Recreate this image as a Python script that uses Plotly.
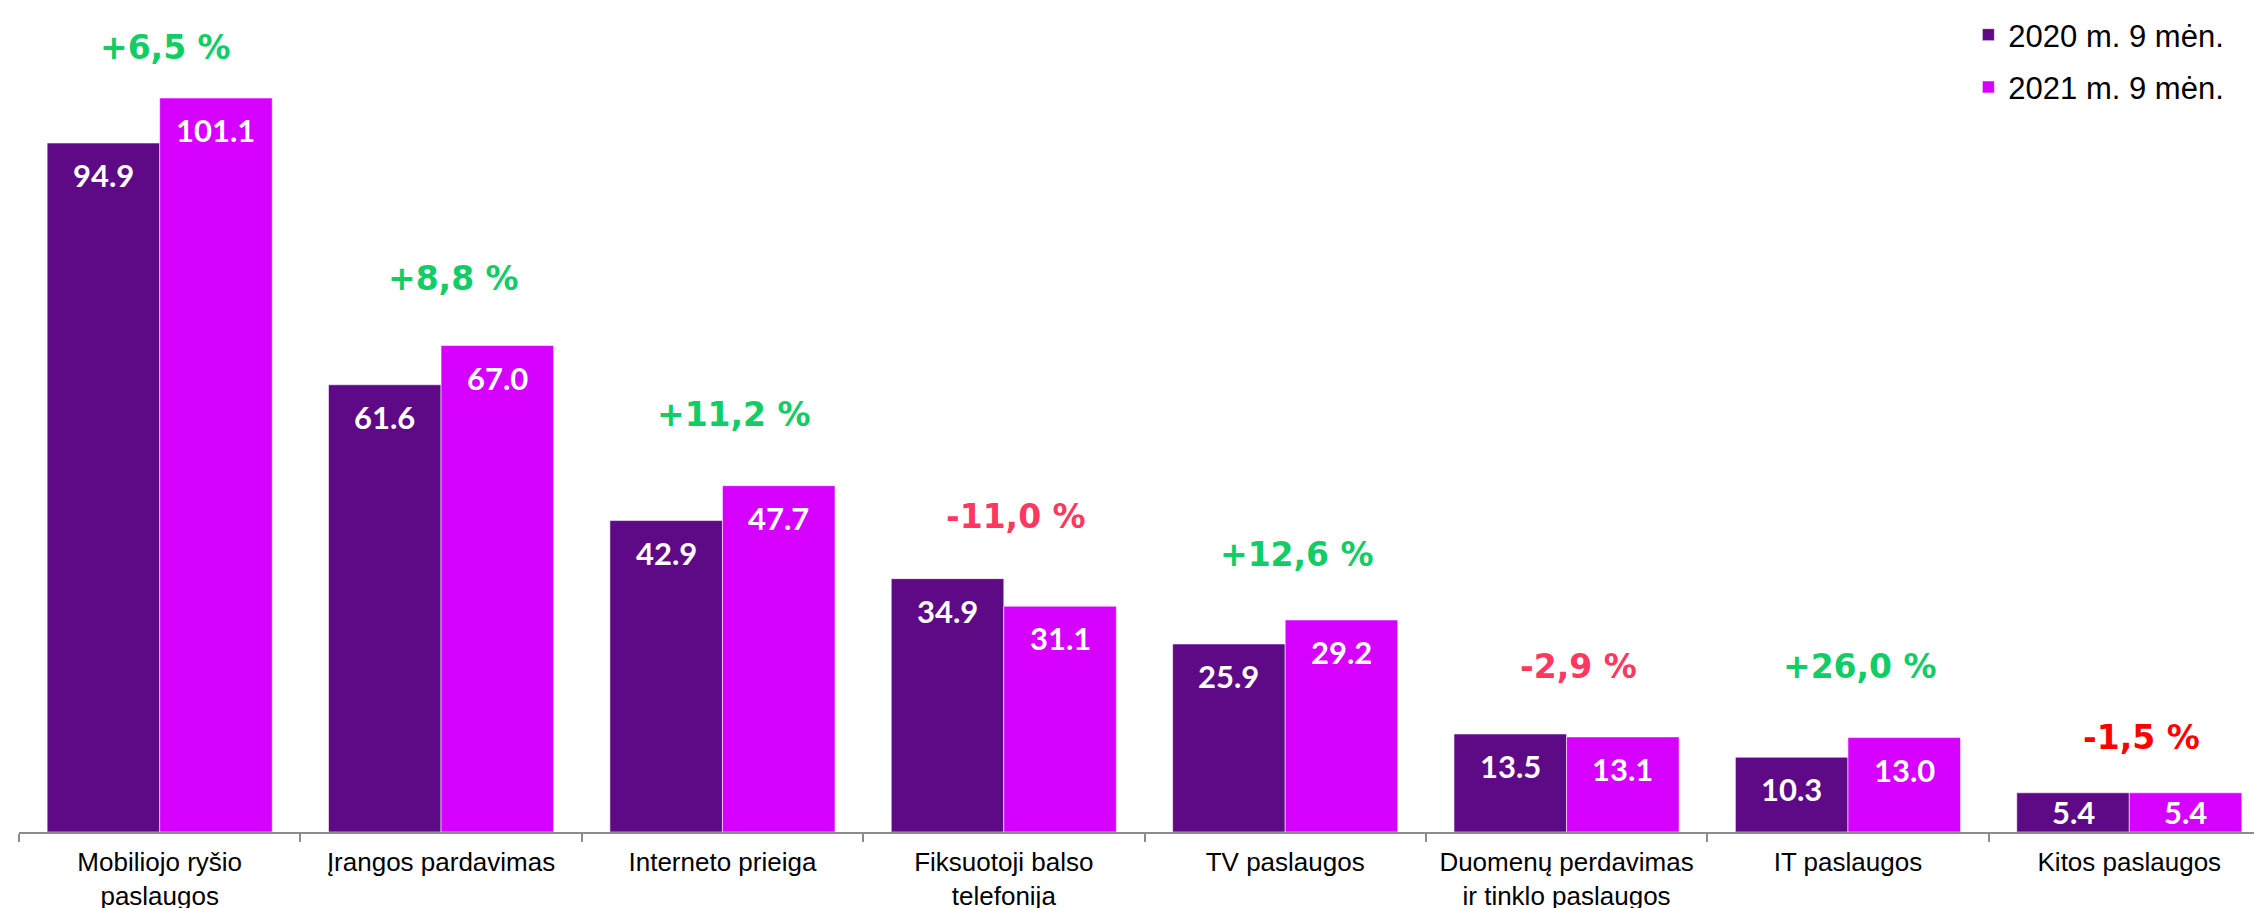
import plotly.graph_objects as go

categories = [
    "Mobiliojo ryšio<br>paslaugos",
    "Įrangos pardavimas",
    "Interneto prieiga",
    "Fiksuotoji balso<br>telefonija",
    "TV paslaugos",
    "Duomenų perdavimas<br>ir tinklo paslaugos",
    "IT paslaugos",
    "Kitos paslaugos",
]
values_2020 = [94.9, 61.6, 42.9, 34.9, 25.9, 13.5, 10.3, 5.4]
values_2021 = [101.1, 67.0, 47.7, 31.1, 29.2, 13.1, 13.0, 5.4]
change_labels = ["+6,5 %", "+8,8 %", "+11,2 %", "-11,0 %", "+12,6 %", "-2,9 %", "+26,0 %", "-1,5 %"]
series_names = ["2020 m. 9 mėn.", "2021 m. 9 mėn."]

# styling
colors = ["#5E0A87", "#D600FF"]
change_colors = ["#12CC66", "#12CC66", "#12CC66", "#FF3860",
                 "#12CC66", "#FF3860", "#12CC66", "#FF0000"]
change_shift = [51, 67, 71, 62, 66, 67, 71, 55]

fig = go.Figure()
for i, (name, vals) in enumerate(zip(series_names, [values_2020, values_2021])):
    fig.add_trace(go.Bar(
        x=categories,
        y=vals,
        name=name,
        legendgroup=name,
        marker=dict(color=colors[i], line=dict(color="rgba(255,255,255,0.55)", width=1)),
        hoverinfo="x+y+name",
    ))

annotations = []
# value labels inside bars
for k, vals in enumerate([values_2020, values_2021]):
    off = -0.2 if k == 0 else 0.2
    for i, v in enumerate(vals):
        annotations.append(dict(
            x=i + off, y=v, xref="x", yref="y",
            text=f"{v:.1f}", showarrow=False,
            yanchor="middle", yshift=-32 if v > 9 else -19,
            font=dict(family="Lato", size=31, color="white", weight="bold"),
        ))

# change labels above groups
for i, lab in enumerate(change_labels):
    annotations.append(dict(
        x=i, y=max(values_2020[i], values_2021[i]), xref="x", yref="y",
        text=lab, showarrow=False, yanchor="middle",
        xshift=6 if i == 0 else 12, yshift=change_shift[i],
        font=dict(family="DejaVu Sans", size=33, color=change_colors[i], weight="bold"),
    ))

fig.update_layout(
    width=2262, height=908,
    margin=dict(l=11, r=0, t=0, b=84),
    barmode="group", bargap=0.2, bargroupgap=0,
    plot_bgcolor="white", paper_bgcolor="white",
    annotations=annotations,
    showlegend=True,
    legend=dict(
        x=0.866, y=1.0, xanchor="left", yanchor="top",
        font=dict(family="Liberation Sans, Arial", size=31, color="black"),
        tracegroupgap=9, bgcolor="rgba(0,0,0,0)",
    ),
    font=dict(family="Liberation Sans, Arial", color="black"),
)
fig.update_xaxes(
    showline=True, linecolor="#8C8C8C", linewidth=2,
    ticks="outside", tickson="boundaries", ticklen=8, tickcolor="#8C8C8C", tickwidth=2,
    tickfont=dict(family="Liberation Sans, Arial", size=26, color="black"),
    ticklabelstandoff=6,
    showgrid=False, automargin=False,
)
fig.update_yaxes(range=[0, 113.5], visible=False, showgrid=False)

fig.write_html("out.html")
